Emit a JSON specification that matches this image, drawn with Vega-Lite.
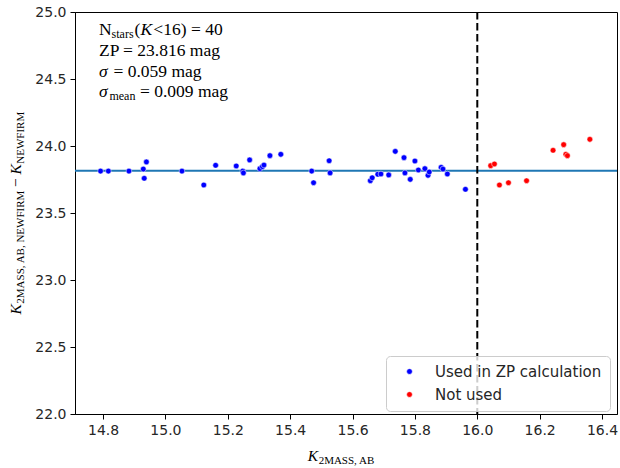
{
  "$schema": "https://vega.github.io/schema/vega-lite/v6.json",
  "width": 542,
  "height": 402,
  "autosize": {"type": "none"},
  "padding": {"left": 75, "top": 12, "right": 3, "bottom": 54},
  "config": {
    "view": {"stroke": "black", "strokeWidth": 1},
    "axis": {"grid": false, "domainColor": "black", "domainWidth": 1, "tickColor": "black", "tickSize": 5, "tickWidth": 1, "labelFont": "DejaVu Sans", "labelFontSize": 14, "labelColor": "#262626", "labelPadding": 4},
    "legend": {"orient": "none", "legendX": 311, "legendY": 344, "labelFont": "DejaVu Sans", "labelFontSize": 15, "labelColor": "#262626", "labelLimit": 400, "symbolType": "circle", "symbolSize": 32, "symbolStrokeColor": "white", "symbolStrokeWidth": 0.5, "padding": 8, "strokeColor": "#cccccc", "fillColor": "rgba(255,255,255,0.8)", "cornerRadius": 4, "rowPadding": 7, "labelOffset": 18, "symbolOffset": 8}
  },
  "layer": [
    {
      "data": {"values": [{}]},
      "mark": {"type": "rule", "color": "#1f77b4", "strokeWidth": 2},
      "encoding": {"y": {"datum": 23.816, "type": "quantitative"}}
    },
    {
      "data": {"values": [{}]},
      "mark": {"type": "rule", "color": "black", "strokeWidth": 2, "strokeDash": [7.5, 3.5]},
      "encoding": {"x": {"datum": 16.0, "type": "quantitative"}}
    },
    {
      "data": {"values": [
        {"k2mass": 14.792, "dk": 23.813, "status": "Used in ZP calculation"},
        {"k2mass": 14.817, "dk": 23.813, "status": "Used in ZP calculation"},
        {"k2mass": 14.883, "dk": 23.813, "status": "Used in ZP calculation"},
        {"k2mass": 14.929, "dk": 23.828, "status": "Used in ZP calculation"},
        {"k2mass": 14.939, "dk": 23.881, "status": "Used in ZP calculation"},
        {"k2mass": 14.932, "dk": 23.759, "status": "Used in ZP calculation"},
        {"k2mass": 15.053, "dk": 23.813, "status": "Used in ZP calculation"},
        {"k2mass": 15.123, "dk": 23.709, "status": "Used in ZP calculation"},
        {"k2mass": 15.161, "dk": 23.856, "status": "Used in ZP calculation"},
        {"k2mass": 15.227, "dk": 23.851, "status": "Used in ZP calculation"},
        {"k2mass": 15.248, "dk": 23.813, "status": "Used in ZP calculation"},
        {"k2mass": 15.250, "dk": 23.799, "status": "Used in ZP calculation"},
        {"k2mass": 15.270, "dk": 23.896, "status": "Used in ZP calculation"},
        {"k2mass": 15.303, "dk": 23.831, "status": "Used in ZP calculation"},
        {"k2mass": 15.311, "dk": 23.846, "status": "Used in ZP calculation"},
        {"k2mass": 15.316, "dk": 23.858, "status": "Used in ZP calculation"},
        {"k2mass": 15.335, "dk": 23.928, "status": "Used in ZP calculation"},
        {"k2mass": 15.370, "dk": 23.938, "status": "Used in ZP calculation"},
        {"k2mass": 15.469, "dk": 23.813, "status": "Used in ZP calculation"},
        {"k2mass": 15.475, "dk": 23.726, "status": "Used in ZP calculation"},
        {"k2mass": 15.525, "dk": 23.890, "status": "Used in ZP calculation"},
        {"k2mass": 15.528, "dk": 23.799, "status": "Used in ZP calculation"},
        {"k2mass": 15.657, "dk": 23.741, "status": "Used in ZP calculation"},
        {"k2mass": 15.663, "dk": 23.763, "status": "Used in ZP calculation"},
        {"k2mass": 15.681, "dk": 23.789, "status": "Used in ZP calculation"},
        {"k2mass": 15.691, "dk": 23.791, "status": "Used in ZP calculation"},
        {"k2mass": 15.716, "dk": 23.784, "status": "Used in ZP calculation"},
        {"k2mass": 15.737, "dk": 23.960, "status": "Used in ZP calculation"},
        {"k2mass": 15.765, "dk": 23.913, "status": "Used in ZP calculation"},
        {"k2mass": 15.768, "dk": 23.799, "status": "Used in ZP calculation"},
        {"k2mass": 15.785, "dk": 23.751, "status": "Used in ZP calculation"},
        {"k2mass": 15.800, "dk": 23.888, "status": "Used in ZP calculation"},
        {"k2mass": 15.811, "dk": 23.821, "status": "Used in ZP calculation"},
        {"k2mass": 15.832, "dk": 23.831, "status": "Used in ZP calculation"},
        {"k2mass": 15.842, "dk": 23.781, "status": "Used in ZP calculation"},
        {"k2mass": 15.846, "dk": 23.806, "status": "Used in ZP calculation"},
        {"k2mass": 15.884, "dk": 23.841, "status": "Used in ZP calculation"},
        {"k2mass": 15.890, "dk": 23.828, "status": "Used in ZP calculation"},
        {"k2mass": 15.904, "dk": 23.791, "status": "Used in ZP calculation"},
        {"k2mass": 15.962, "dk": 23.677, "status": "Used in ZP calculation"},
        {"k2mass": 16.043, "dk": 23.853, "status": "Not used"},
        {"k2mass": 16.055, "dk": 23.866, "status": "Not used"},
        {"k2mass": 16.071, "dk": 23.709, "status": "Not used"},
        {"k2mass": 16.100, "dk": 23.726, "status": "Not used"},
        {"k2mass": 16.158, "dk": 23.741, "status": "Not used"},
        {"k2mass": 16.243, "dk": 23.968, "status": "Not used"},
        {"k2mass": 16.277, "dk": 24.010, "status": "Not used"},
        {"k2mass": 16.284, "dk": 23.938, "status": "Not used"},
        {"k2mass": 16.289, "dk": 23.928, "status": "Not used"},
        {"k2mass": 16.361, "dk": 24.050, "status": "Not used"}
      ]},
      "mark": {"type": "circle", "size": 32, "opacity": 1, "stroke": "white", "strokeWidth": 0.5},
      "encoding": {
        "x": {"field": "k2mass", "type": "quantitative", "scale": {"domain": [14.71, 16.448], "nice": false, "zero": false}, "axis": {"title": null, "values": [14.8, 15.0, 15.2, 15.4, 15.6, 15.8, 16.0, 16.2, 16.4], "format": ".1f"}},
        "y": {"field": "dk", "type": "quantitative", "scale": {"domain": [22, 25], "nice": false, "zero": false}, "axis": {"title": null, "values": [22.0, 22.5, 23.0, 23.5, 24.0, 24.5, 25.0], "format": ".1f"}},
        "color": {"field": "status", "type": "nominal", "scale": {"domain": ["Used in ZP calculation", "Not used"], "range": ["#0000ff", "#ff0000"]}, "legend": {"title": null}}
      }
    },
    {
      "data": {"values": [{}]},
      "mark": {"type": "text", "text": "N", "font": "Liberation Serif", "fontSize": 17.5, "align": "left", "baseline": "alphabetic", "color": "black"},
      "encoding": {"x": {"datum": 14.7868, "type": "quantitative"}, "y": {"datum": 24.8306, "type": "quantitative"}}
    },
    {
      "data": {"values": [{}]},
      "mark": {"type": "text", "text": "stars", "font": "Liberation Serif", "fontSize": 12, "align": "left", "baseline": "alphabetic", "dx": 12.6, "dy": 3.5, "color": "black"},
      "encoding": {"x": {"datum": 14.7868, "type": "quantitative"}, "y": {"datum": 24.8306, "type": "quantitative"}}
    },
    {
      "data": {"values": [{}]},
      "mark": {"type": "text", "text": "(", "font": "Liberation Serif", "fontSize": 17.5, "align": "left", "baseline": "alphabetic", "dx": 35.6, "color": "black"},
      "encoding": {"x": {"datum": 14.7868, "type": "quantitative"}, "y": {"datum": 24.8306, "type": "quantitative"}}
    },
    {
      "data": {"values": [{}]},
      "mark": {"type": "text", "text": "K", "font": "Liberation Serif", "fontStyle": "italic", "fontSize": 17.5, "align": "left", "baseline": "alphabetic", "dx": 41.6, "color": "black"},
      "encoding": {"x": {"datum": 14.7868, "type": "quantitative"}, "y": {"datum": 24.8306, "type": "quantitative"}}
    },
    {
      "data": {"values": [{}]},
      "mark": {"type": "text", "text": "<16) = 40", "font": "Liberation Serif", "fontSize": 17.5, "align": "left", "baseline": "alphabetic", "dx": 54.4, "color": "black"},
      "encoding": {"x": {"datum": 14.7868, "type": "quantitative"}, "y": {"datum": 24.8306, "type": "quantitative"}}
    },
    {
      "data": {"values": [{}]},
      "mark": {"type": "text", "text": "ZP = 23.816 mag", "font": "Liberation Serif", "fontSize": 17.5, "align": "left", "baseline": "alphabetic", "color": "black"},
      "encoding": {"x": {"datum": 14.7868, "type": "quantitative"}, "y": {"datum": 24.674, "type": "quantitative"}}
    },
    {
      "data": {"values": [{}]},
      "mark": {"type": "text", "text": "σ", "font": "Liberation Serif", "fontStyle": "italic", "fontSize": 17.5, "align": "left", "baseline": "alphabetic", "color": "black"},
      "encoding": {"x": {"datum": 14.7868, "type": "quantitative"}, "y": {"datum": 24.515, "type": "quantitative"}}
    },
    {
      "data": {"values": [{}]},
      "mark": {"type": "text", "text": "= 0.059 mag", "font": "Liberation Serif", "fontSize": 17.5, "align": "left", "baseline": "alphabetic", "dx": 14.5, "color": "black"},
      "encoding": {"x": {"datum": 14.7868, "type": "quantitative"}, "y": {"datum": 24.515, "type": "quantitative"}}
    },
    {
      "data": {"values": [{}]},
      "mark": {"type": "text", "text": "σ", "font": "Liberation Serif", "fontStyle": "italic", "fontSize": 17.5, "align": "left", "baseline": "alphabetic", "color": "black"},
      "encoding": {"x": {"datum": 14.7868, "type": "quantitative"}, "y": {"datum": 24.366, "type": "quantitative"}}
    },
    {
      "data": {"values": [{}]},
      "mark": {"type": "text", "text": "mean", "font": "Liberation Serif", "fontSize": 12, "align": "left", "baseline": "alphabetic", "dx": 10.5, "dy": 3.5, "color": "black"},
      "encoding": {"x": {"datum": 14.7868, "type": "quantitative"}, "y": {"datum": 24.366, "type": "quantitative"}}
    },
    {
      "data": {"values": [{}]},
      "mark": {"type": "text", "text": "= 0.009 mag", "font": "Liberation Serif", "fontSize": 17.5, "align": "left", "baseline": "alphabetic", "dx": 41, "color": "black"},
      "encoding": {"x": {"datum": 14.7868, "type": "quantitative"}, "y": {"datum": 24.366, "type": "quantitative"}}
    },
    {
      "data": {"values": [{}]},
      "mark": {"type": "text", "text": "K", "font": "Liberation Serif", "fontStyle": "italic", "fontSize": 15.5, "align": "left", "baseline": "alphabetic", "color": "black"},
      "encoding": {"x": {"datum": 15.4566, "type": "quantitative"}, "y": {"datum": 21.6515, "type": "quantitative"}}
    },
    {
      "data": {"values": [{}]},
      "mark": {"type": "text", "text": "2MASS, AB", "font": "Liberation Serif", "fontSize": 11, "align": "left", "baseline": "alphabetic", "dx": 10.8, "dy": 3.5, "color": "black"},
      "encoding": {"x": {"datum": 15.4566, "type": "quantitative"}, "y": {"datum": 21.6515, "type": "quantitative"}}
    },
    {
      "data": {"values": [{}]},
      "mark": {"type": "text", "text": "K", "font": "Liberation Serif", "fontStyle": "italic", "fontSize": 15.5, "align": "left", "baseline": "alphabetic", "angle": 270, "color": "black"},
      "encoding": {"x": {"datum": 14.5362, "type": "quantitative"}, "y": {"datum": 22.7425, "type": "quantitative"}}
    },
    {
      "data": {"values": [{}]},
      "mark": {"type": "text", "text": "2MASS, AB, NEWFIRM", "font": "Liberation Serif", "fontSize": 11, "align": "left", "baseline": "alphabetic", "angle": 270, "dx": 10.8, "dy": 3.5, "color": "black"},
      "encoding": {"x": {"datum": 14.5362, "type": "quantitative"}, "y": {"datum": 22.7425, "type": "quantitative"}}
    },
    {
      "data": {"values": [{}]},
      "mark": {"type": "text", "text": "−", "font": "Liberation Serif", "fontSize": 15.5, "align": "left", "baseline": "alphabetic", "angle": 270, "dx": 127.4, "color": "black"},
      "encoding": {"x": {"datum": 14.5362, "type": "quantitative"}, "y": {"datum": 22.7425, "type": "quantitative"}}
    },
    {
      "data": {"values": [{}]},
      "mark": {"type": "text", "text": "K", "font": "Liberation Serif", "fontStyle": "italic", "fontSize": 15.5, "align": "left", "baseline": "alphabetic", "angle": 270, "dx": 140, "color": "black"},
      "encoding": {"x": {"datum": 14.5362, "type": "quantitative"}, "y": {"datum": 22.7425, "type": "quantitative"}}
    },
    {
      "data": {"values": [{}]},
      "mark": {"type": "text", "text": "NEWFIRM", "font": "Liberation Serif", "fontSize": 11, "align": "left", "baseline": "alphabetic", "angle": 270, "dx": 150.8, "dy": 3.5, "color": "black"},
      "encoding": {"x": {"datum": 14.5362, "type": "quantitative"}, "y": {"datum": 22.7425, "type": "quantitative"}}
    }
  ]
}
